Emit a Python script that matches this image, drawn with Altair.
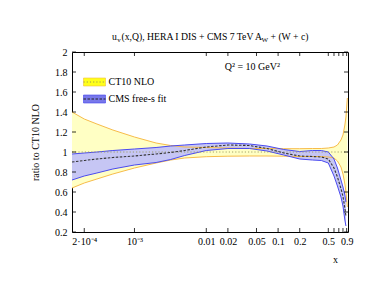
import altair as alt
import pandas as pd

# ---------------- data ----------------
x_grid = [1.35e-4, 2e-4, 3e-4, 5e-4, 1e-3, 2e-3, 3.2e-3, 5e-3, 0.01, 0.02, 0.04,
          0.07, 0.12, 0.2, 0.3, 0.4, 0.5, 0.6, 0.67, 0.75, 0.8, 0.85, 0.88, 0.92]
ct10_up = [1.40, 1.33, 1.28, 1.22, 1.15, 1.09, 1.065, 1.05, 1.045, 1.04, 1.035,
           1.035, 1.033, 1.033, 1.035, 1.035, 1.04, 1.05, 1.07, 1.12, 1.17, 1.27, 1.35, 1.54]
ct10_lo = [0.64, 0.69, 0.73, 0.78, 0.84, 0.89, 0.92, 0.94, 0.953, 0.958, 0.96,
           0.96, 0.958, 0.955, 0.955, 0.955, 0.95, 0.94, 0.91, 0.85, 0.78, 0.68, 0.60, 0.45]

x_cms = [1.35e-4, 2e-4, 3e-4, 5e-4, 1e-3, 2e-3, 3.2e-3, 5e-3, 0.01, 0.02, 0.04,
         0.07, 0.12, 0.2, 0.3, 0.4, 0.5, 0.6, 0.67, 0.75, 0.8, 0.85, 0.88]
cms_up = [0.98, 0.99, 1.0, 1.015, 1.03, 1.045, 1.06, 1.07, 1.085, 1.09, 1.08,
          1.06, 1.025, 1.005, 1.015, 1.015, 1.0, 0.93, 0.84, 0.72, 0.65, 0.57, 0.50]
cms_lo = [0.72, 0.76, 0.79, 0.83, 0.87, 0.895, 0.925, 0.965, 1.015, 1.035, 1.035,
          1.01, 0.97, 0.93, 0.92, 0.915, 0.89, 0.76, 0.66, 0.55, 0.46, 0.32, 0.26]
cms_mid = [0.90, 0.915, 0.93, 0.945, 0.96, 0.98, 0.995, 1.015, 1.05, 1.07, 1.065,
           1.035, 0.99, 0.96, 0.955, 0.95, 0.93, 0.84, 0.75, 0.635, 0.555, 0.44, 0.36]

x_tick_vals = [2e-4, 1e-3, 0.01, 0.02, 0.05, 0.1, 0.2, 0.5, 0.9]
x_tick_text = ["2·10⁻⁴", "10⁻³", "0.01", "0.02", "0.05", "0.1", "0.2", "0.5", "0.9"]
x_minor_vals = [0.6, 0.7, 0.8]
y_tick_vals = [0.2, 0.4, 0.6, 0.8, 1.0, 1.2, 1.4, 1.6, 1.8, 2.0]

W, H = 276, 180
FONT = "Liberation Serif"

ct10 = pd.DataFrame({"x": x_grid, "lo": ct10_lo, "up": ct10_up})
ct10_edges = pd.concat([
    pd.DataFrame({"x": x_grid, "y": ct10_up, "edge": "up"}),
    pd.DataFrame({"x": x_grid, "y": ct10_lo, "edge": "lo"}),
])
cms = pd.DataFrame({"x": x_cms, "lo": cms_lo, "up": cms_up, "mid": cms_mid})
cms_edges = pd.concat([
    pd.DataFrame({"x": x_cms, "y": cms_up, "edge": "up"}),
    pd.DataFrame({"x": x_cms, "y": cms_lo, "edge": "lo"}),
])
ones = pd.DataFrame({"x": [x_grid[0], 0.94], "y": [1.0, 1.0]})
xt = pd.DataFrame({"v": x_tick_vals + x_minor_vals})
yt = pd.DataFrame({"v": y_tick_vals})
one = pd.DataFrame({"a": [0]})

label_map = "{" + ",".join(f"'{v}':'{t}'" for v, t in zip(x_tick_vals, x_tick_text)) + "}"

xs = alt.Scale(type="log", domain=[1.35e-4, 0.94], nice=False)
ys = alt.Scale(domain=[0.2, 2.0], nice=False, zero=False)

AX = alt.Axis(values=x_tick_vals, labelExpr=f"{label_map}[''+datum.value]",
              ticks=False, domain=False, grid=False, labelFont=FONT,
              labelFontSize=10, labelColor="black", labelPadding=4,
              labelFlush=False, labelOverlap=False,
              title="x", titleFont=FONT, titleFontSize=10,
              titleFontWeight="normal", titleX=263, titleY=22)
AY = alt.Axis(values=y_tick_vals, format=".1~f", ticks=False, domain=False,
              grid=False, labelFont=FONT, labelFontSize=10, labelColor="black",
              labelPadding=5, labelOverlap=False, labelFlush=False,
              title="ratio to CT10 NLO", titleFont=FONT,
              titleFontSize=10, titleFontWeight="normal", titlePadding=14)

def PX(field):
    return alt.X(field, scale=xs, axis=AX)

def PY(field):
    return alt.Y(field, scale=ys, axis=AY)

ct10_band = alt.Chart(ct10).mark_area(color="#ffffc4").encode(
    x=PX("x:Q"), y=PY("lo:Q"), y2="up:Q")
ct10_lines = alt.Chart(ct10_edges).mark_line(color="#f7bc4a", strokeWidth=1).encode(
    x=PX("x:Q"), y=PY("y:Q"), detail="edge:N")
cms_band = alt.Chart(cms).mark_area(color="#c6c6f4").encode(
    x=PX("x:Q"), y=PY("lo:Q"), y2="up:Q")
cms_lines = alt.Chart(cms_edges).mark_line(color="#4a4af0", strokeWidth=1).encode(
    x=PX("x:Q"), y=PY("y:Q"), detail="edge:N")
ct10_mid = alt.Chart(ones).mark_line(color="#9a9a60", strokeWidth=0.9,
                                     strokeDash=[1.2, 2]).encode(
    x=PX("x:Q"), y=PY("y:Q"))
cms_mid_line = alt.Chart(cms).mark_line(color="#333333", strokeWidth=1.1,
                                        strokeDash=[2.5, 1.5]).encode(
    x=PX("x:Q"), y=PY("mid:Q"))

# inward ticks
tick_kw = dict(color="black", strokeWidth=0.8)
xt_bot = alt.Chart(xt).mark_rule(**tick_kw).encode(
    x=PX("v:Q"), y=alt.value(H), y2=alt.value(H - 4))
xt_top = alt.Chart(xt).mark_rule(**tick_kw).encode(
    x=PX("v:Q"), y=alt.value(0), y2=alt.value(4))
yt_left = alt.Chart(yt).mark_rule(**tick_kw).encode(
    y=PY("v:Q"), x=alt.value(0), x2=alt.value(4))
yt_right = alt.Chart(yt).mark_rule(**tick_kw).encode(
    y=PY("v:Q"), x=alt.value(W), x2=alt.value(W - 4))

# legend
leg_y = alt.Chart(one).mark_rect(color="#ffff1a", stroke="#f0c040", strokeWidth=0.6).encode(
    x=alt.value(11.5), x2=alt.value(33.5), y=alt.value(26), y2=alt.value(34))
leg_y_line = alt.Chart(one).mark_rule(color="#9a9a50", strokeDash=[1.2, 2]).encode(
    x=alt.value(11.5), x2=alt.value(33.5), y=alt.value(30))
leg_b = alt.Chart(one).mark_rect(color="#7878ea", stroke="#4040ee", strokeWidth=0.6).encode(
    x=alt.value(11.5), x2=alt.value(33.5), y=alt.value(43), y2=alt.value(51))
leg_b_line = alt.Chart(one).mark_rule(color="#222222", strokeDash=[2.5, 1.5]).encode(
    x=alt.value(11.5), x2=alt.value(33.5), y=alt.value(47))

def txt(s, x, y, size=10, align="left", baseline="middle"):
    return alt.Chart(one).mark_text(text=s, font=FONT, fontSize=size, align=align,
                                    baseline=baseline, color="black").encode(
        x=alt.value(x), y=alt.value(y))

texts = [
    txt("CT10 NLO", 36.5, 30),
    txt("CMS free-s fit", 36.5, 47),
    txt("Q² = 10 GeV²", 208, 15, align="right"),
    txt("u", 40, -15.5, size=9.7),
    txt("v", 45.3, -12.5, size=7),
    txt("(x,Q), HERA I DIS + CMS 7 TeV A", 49.5, -15.5, size=9.7),
    txt("W", 189.5, -12.5, size=7),
    txt("+ (W + c)", 198.5, -15.5, size=9.7),
]

chart = alt.layer(
    ct10_band, cms_band, ct10_lines, cms_lines, ct10_mid, cms_mid_line,
    xt_bot, xt_top, yt_left, yt_right,
    leg_y, leg_y_line, leg_b, leg_b_line, *texts
).properties(
    width=W, height=H,
    autosize=alt.AutoSizeParams(type="none"),
    padding={"left": 64, "top": 44, "right": 18, "bottom": 40},
).configure_view(stroke="black", strokeWidth=1)

chart.save("out.html", embed_options={"renderer": "svg", "actions": False})
